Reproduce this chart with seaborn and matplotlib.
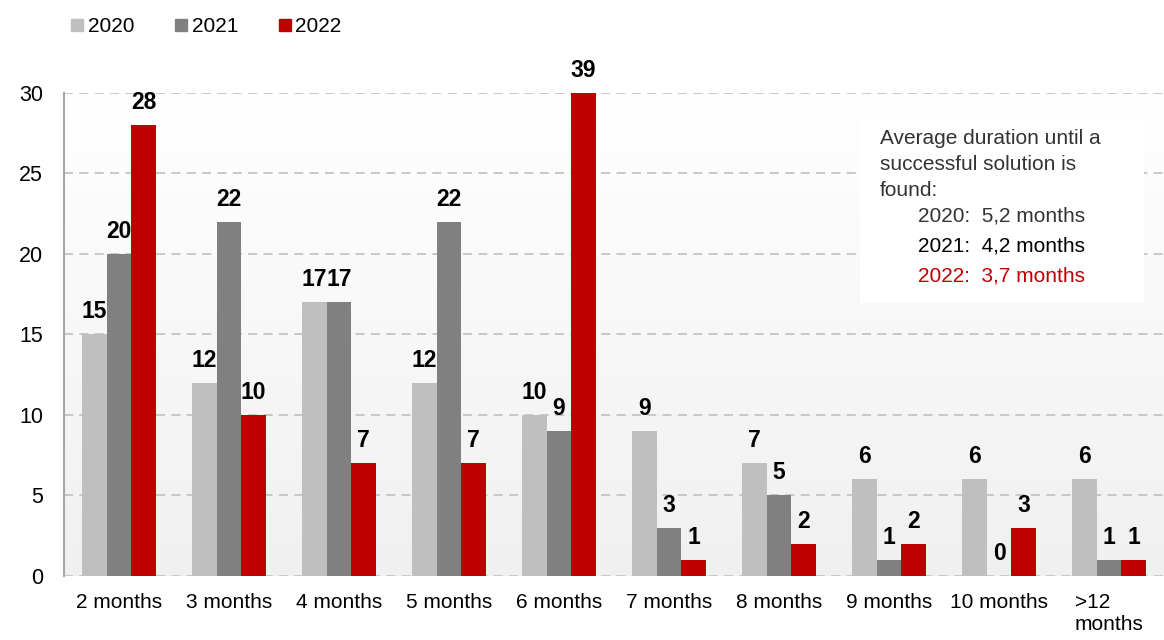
import numpy as np
import pandas as pd
import matplotlib
matplotlib.use('Agg')
import matplotlib.pyplot as plt
import seaborn as sns
from matplotlib.lines import Line2D
from matplotlib.patches import Rectangle

categories = ['2 months', '3 months', '4 months', '5 months', '6 months',
              '7 months', '8 months', '9 months', '10 months', '>12\nmonths']
years = ['2020', '2021', '2022']
v2020 = [15, 12, 17, 12, 10, 9, 7, 6, 6, 6]
v2021 = [20, 22, 17, 22, 9, 3, 5, 1, 0, 1]
v2022 = [28, 10, 7, 7, 39, 1, 2, 2, 3, 1]
colors = ['#bfbfbf', '#808080', '#c00000']
avg_lines = ['2020:  5,2 months', '2021:  4,2 months', '2022:  3,7 months']
avg_colors = ['#333333', '#000000', '#c00000']
y_max = 30

df = pd.DataFrame({
    'category': categories * 3,
    'year': [y for y in years for _ in categories],
    'value': v2020 + v2021 + v2022,
})

sns.set_theme(style='white')
plt.rcParams['font.family'] = ['Liberation Sans', 'DejaVu Sans']
plt.rcParams['text.color'] = 'black'
plt.rcParams['xtick.color'] = 'black'
plt.rcParams['ytick.color'] = 'black'

fig = plt.figure(figsize=(11.64, 6.4), dpi=100)
ax = fig.add_axes([0.055, 0.1, 0.945, 0.7547])

# light gray -> white background gradient inside the plot area
grad = np.linspace(0, 1, 256).reshape(-1, 1)
ax.imshow(grad, extent=[0, 1, 0, 1], transform=ax.transAxes, aspect='auto',
          cmap=matplotlib.colors.LinearSegmentedColormap.from_list('bg', ['#f0f0f0', '#ffffff']),
          origin='lower', zorder=-10)

sns.barplot(data=df, x='category', y='value', hue='year', palette=colors,
            width=0.67, gap=0, saturation=1, linewidth=0, ax=ax, legend=False, zorder=3)

ax.set_ylim(0, y_max)
ax.set_xlim(-0.5, len(categories) - 0.5)
ax.set_yticks(range(0, 31, 5))
ax.set_xlabel('')
ax.set_ylabel('')
ax.yaxis.grid(True, color='#c4c4c4', linestyle=(0, (5, 3.5)), linewidth=1.3, zorder=0)
ax.set_axisbelow(True)
for s in ['top', 'right', 'bottom']:
    ax.spines[s].set_visible(False)
ax.spines['left'].set_color('#a6a6a6')
ax.spines['left'].set_linewidth(1.5)
ax.tick_params(axis='y', length=0, pad=15, labelsize=15.5)
ax.tick_params(axis='x', length=0, pad=12, labelsize=15)
for lab in ax.get_xticklabels():
    lab.set_multialignment('left')

# value labels (capped at the axis top for the clipped bar)
for cont in ax.containers:
    for bar in cont:
        h = bar.get_height()
        ax.annotate(f'{h:.0f}', xy=(bar.get_x() + bar.get_width() / 2, min(h, y_max)),
                    xytext=(0, 8), textcoords='offset points', ha='center', va='bottom',
                    fontsize=16.5, fontweight='bold', color='black',
                    annotation_clip=False, zorder=5)

# legend
handles = [Line2D([0], [0], marker='s', color='none', markerfacecolor=c,
                  markeredgecolor=c, markersize=8) for c in colors]
fig.legend(handles, years, loc='upper left', bbox_to_anchor=(0.045, 1.003), ncol=3,
           frameon=False, fontsize=15, handlelength=0.6, handletextpad=0.2,
           columnspacing=1.95)

# info box
ax.add_patch(Rectangle((0.7236, 0.565), 0.2582, 0.385, transform=ax.transAxes,
                       facecolor='white', edgecolor='none', zorder=4))
ax.text(0.742, 0.925, 'Average duration until a\nsuccessful solution is\nfound:',
        transform=ax.transAxes, fontsize=15, color='#333333', va='top', ha='left',
        linespacing=1.45, zorder=6)
for i, (line, c) in enumerate(zip(avg_lines, avg_colors)):
    ax.text(0.776, 0.745 - i * 0.062, line, transform=ax.transAxes, fontsize=15,
            color=c, va='center', ha='left', zorder=6)

fig.savefig('out.png', dpi=100)
